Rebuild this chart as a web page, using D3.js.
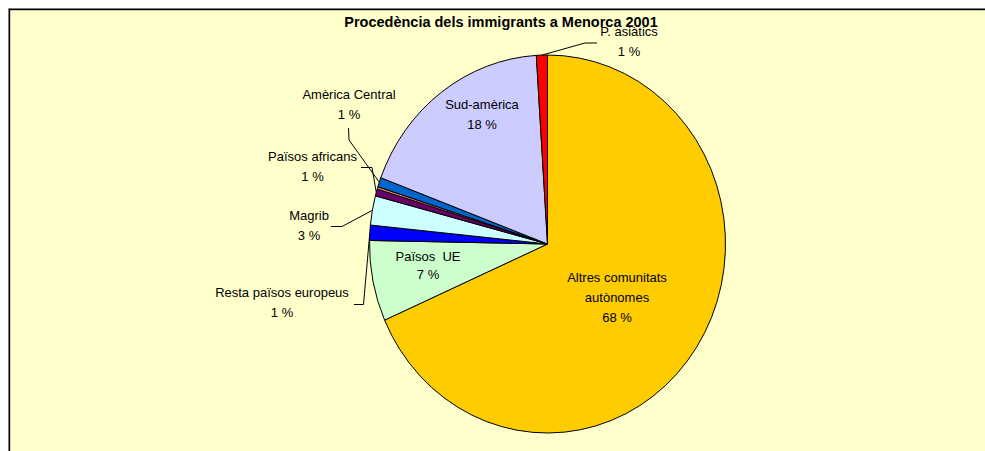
<!DOCTYPE html>
<html>
<head>
<meta charset="utf-8">
<script src="https://cdn.jsdelivr.net/npm/d3@7"></script>
<style>
  body { margin: 0; background: #fff; }
  text { font-family: "Liberation Sans", Arial, sans-serif; }
</style>
</head>
<body>
<div id="chart"></div>
<script>
// Data (clockwise from 12 o'clock)
const categories = ["Altres comunitats autònomes", "Països UE", "Resta països europeus", "Magrib",
    "Països africans", "Amèrica del Nord", "Amèrica Central", "Sud-amèrica", "P. asiàtics"];
const percentages = [68.4, 6.9, 1.3, 2.5, 0.6, 0.2, 0.8, 18.3, 1.0];
const colors = ["#FFCC00", "#CCFFCC", "#0000FF", "#CCFFFF", "#660066", "#FF8080", "#0066CC", "#CCCCFF", "#FF0000"];
const labelLines = [["Altres comunitats", "autònomes"], ["Països  UE"], ["Resta països europeus"], ["Magrib"],
    ["Països africans"], ["Amèrica del Nord"], ["Amèrica Central"], ["Sud-amèrica"], ["P. asiàtics"]];

const width = 985, height = 451;
const cx = 547.5, cy = 244, rx = 178, ry = 189;

// label placement: text centre x, first baseline y, leader elbow points (label side)
const labelLayout = [
    { x: 617, y: 282 },
    { x: 428, y: 261, lh: 18 },
    { x: 282, y: 297, leader: [[354, 304.5], [363.5, 304.5]] },
    { x: 309, y: 220, leader: [[331, 226.5], [342, 226.5]] },
    { x: 312.5, y: 161, leader: [[361, 167.5], [372, 167.5]] },
    null,
    { x: 349, y: 99, leader: [[348.5, 128], [349, 140]] },
    { x: 482, y: 109 },
    { x: 629, y: 36, leader: [[597, 43], [585, 43]] }
];

const svg = d3.select("#chart")
    .append("svg")
    .attr("width", width)
    .attr("height", height);

// chart area frame
svg.append("rect")
    .attr("x", 8.5).attr("y", 8.5)
    .attr("width", width).attr("height", height)
    .attr("fill", "none")
    .attr("stroke", "#999");
svg.append("rect")
    .attr("x", 9.5).attr("y", 9.5)
    .attr("width", width).attr("height", height)
    .attr("fill", "#FFFFCC")
    .attr("stroke", "#000")
    .attr("stroke-width", 1.4);

svg.append("text")
    .attr("x", 501)
    .attr("y", 27)
    .attr("text-anchor", "middle")
    .attr("font-size", 14.5)
    .attr("font-weight", "bold")
    .text("Procedència dels immigrants a Menorca 2001");

const data = categories.map((c, i) => ({ name: c, value: percentages[i], color: colors[i], i }));

const pie = d3.pie()
    .sort(null)
    .value(d => d.value)
    .startAngle(0)
    .endAngle(2 * Math.PI);

const arcs = pie(data);
const arc = d3.arc().innerRadius(0).outerRadius(rx);

svg.append("g")
    .attr("transform", `translate(${cx},${cy}) scale(1,${ry / rx})`)
    .selectAll("path")
    .data(arcs)
    .join("path")
    .attr("d", arc)
    .attr("fill", d => d.data.color)
    .attr("stroke", "#000")
    .attr("stroke-width", 1)
    .attr("vector-effect", "non-scaling-stroke");

// point on the (slightly elliptical) pie edge
function edge(a, k = 1) {
    return [cx + rx * k * Math.sin(a), cy - ry * k * Math.cos(a)];
}

const line = d3.line();
const labels = svg.append("g");

arcs.forEach((d, i) => {
    const lay = labelLayout[i];
    const pct = Math.round(d.data.value);
    if (!lay || pct === 0) return;
    const lh = lay.lh || 20;
    const lines = labelLines[i].concat([pct + " %"]);
    const t = labels.append("text")
        .attr("text-anchor", "middle")
        .attr("font-size", 13)
        .attr("fill", "#000");
    lines.forEach((s, j) => {
        t.append("tspan")
            .attr("x", lay.x)
            .attr("y", lay.y + j * lh)
            .attr("xml:space", "preserve")
            .text(s);
    });
    if (lay.leader) {
        const mid = (d.startAngle + d.endAngle) / 2;
        const pts = lay.leader.concat([edge(mid)]);
        labels.append("path")
            .attr("d", line(pts))
            .attr("fill", "none")
            .attr("stroke", "#000")
            .attr("stroke-width", 1);
    }
});
</script>
</body>
</html>
